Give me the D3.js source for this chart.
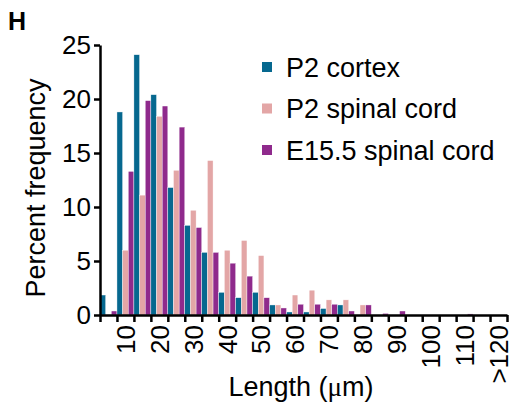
<!DOCTYPE html>
<html>
<head>
<meta charset="utf-8">
<script src="https://cdn.jsdelivr.net/npm/d3@7/dist/d3.min.js"></script>
<style>
  body { margin: 0; background: #fff; }
  svg { font-family: "Liberation Sans", Arial, Helvetica, sans-serif; }
  .axis path, .axis line { stroke: #000; stroke-width: 2.5; }
  .axis text { font-size: 26px; fill: #000; }
</style>
</head>
<body>
<svg width="517" height="416"></svg>
<script>
// bins (lower edge labels), every other one is labelled
const bins = ['5','10','15','20','25','30','35','40','45','50','55','60',
              '65','70','75','80','85','90','95','100','105','110','115','>120'];
const seriesNames = ['P2 cortex', 'P2 spinal cord', 'E15.5 spinal cord'];

const p2Cortex = [1.85, 18.8, 24.1, 20.4, 11.8, 8.3, 5.8, 2.1, 1.6, 2.1, 0.93, 0.28,
                  0.28, 0.6, 0.93, 0, 0, 0, 0, 0, 0, 0, 0, 0];
const p2Spinal = [0, 6.0, 11.1, 18.4, 13.4, 9.7, 14.3, 6.0, 6.9, 5.5, 0.93, 1.85,
                  2.3, 1.4, 1.4, 0.93, 0, 0, 0, 0, 0, 0, 0, 0];
const e15Spinal = [0.37, 13.3, 19.85, 19.35, 17.4, 8.1, 5.8, 4.8, 3.6, 1.6, 0.65, 1.0,
                   1.0, 1.0, 0.37, 0.93, 0.15, 0.37, 0, 0, 0, 0.1, 0, 0];

const yTicks = [0, 5, 10, 15, 20, 25];
const colors = ['#06688f', '#e3a6a6', '#8f2a8c'];

const svg = d3.select('svg');
const mLeft = 100, mRight = 507, mTop = 45, mBottom = 315;

const x = d3.scaleBand().domain(bins).range([mLeft, mRight]);
const xs = d3.scaleBand().domain(seriesNames).range([0, x.bandwidth()]);
const y = d3.scaleLinear().domain([0, 25]).range([mBottom, mTop]);
const color = d3.scaleOrdinal().domain(seriesNames).range(colors);

const rows = bins.map((b, i) => ({
  bin: b,
  vals: [p2Cortex[i], p2Spinal[i], e15Spinal[i]].map((v, j) => ({ name: seriesNames[j], v }))
}));

// bars
svg.append('g').selectAll('g').data(rows)
  .enter().append('g')
    .attr('transform', d => `translate(${x(d.bin)},0)`)
  .selectAll('rect').data(d => d.vals.filter(e => e.v > 0))
  .enter().append('rect')
    .attr('x', d => xs(d.name))
    .attr('width', xs.bandwidth())
    .attr('y', d => y(d.v))
    .attr('height', d => y(0) - y(d.v))
    .attr('fill', d => color(d.name))
    .attr('stroke', '#fff')
    .attr('stroke-width', 0.4);

// y axis
svg.append('g').attr('class', 'axis')
  .attr('transform', `translate(${mLeft},0)`)
  .call(d3.axisLeft(y).tickValues(yTicks).tickSize(6).tickSizeOuter(0).tickPadding(3));

// x axis: ticks at bin edges
const xEdge = d3.scaleLinear().domain([0, bins.length]).range([mLeft, mRight]);
svg.append('g').attr('class', 'axis')
  .attr('transform', `translate(0,${mBottom})`)
  .call(d3.axisBottom(xEdge).tickValues(d3.range(bins.length + 1)).tickSize(7).tickSizeOuter(0).tickFormat(''));

// x labels at bin centres
const xl = svg.append('g').attr('class', 'axis')
  .attr('transform', `translate(0,${mBottom})`)
  .call(d3.axisBottom(x).tickValues(bins.filter((b, i) => i % 2 === 1)).tickSize(0));
xl.select('.domain').remove();
xl.selectAll('text')
  .attr('y', 0).attr('x', -10).attr('dy', '0.36em')
  .attr('transform', 'rotate(-90)')
  .style('text-anchor', 'end');

// axis titles
svg.append('text')
  .attr('transform', `translate(45,${(mTop + mBottom) / 2 + 8}) rotate(-90)`)
  .attr('text-anchor', 'middle')
  .style('font-size', '27px')
  .text('Percent frequency');

const xt = svg.append('text')
  .attr('x', 301).attr('y', 396)
  .attr('text-anchor', 'middle')
  .style('font-size', '27px');
xt.append('tspan').text('Length (');
xt.append('tspan').style('font-family', '"Liberation Serif", serif').text('μ');
xt.append('tspan').text('m)');

// panel letter
svg.append('text')
  .attr('x', 8).attr('y', 30)
  .style('font-size', '25px').style('font-weight', 'bold')
  .text('H');

// legend
const lg = svg.append('g').selectAll('g').data(seriesNames)
  .enter().append('g')
    .attr('transform', (d, i) => `translate(262,${67 + i * 41.5})`);
lg.append('rect')
  .attr('x', 0).attr('y', -5).attr('width', 10).attr('height', 10)
  .attr('fill', d => color(d));
lg.append('text')
  .attr('x', 24).attr('dy', '0.36em')
  .style('font-size', '27px')
  .text(d => d);
</script>
</body>
</html>
